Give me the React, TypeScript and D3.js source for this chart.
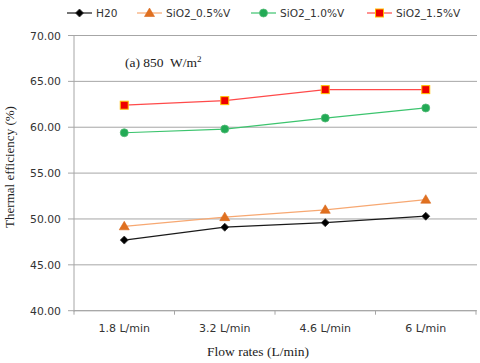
import React from "react";
import * as d3 from "d3";

const categories = ["1.8 L/min", "3.2 L/min", "4.6 L/min", "6 L/min"];
const yTicks = [40, 45, 50, 55, 60, 65, 70];
const h2o = [47.7, 49.1, 49.6, 50.3];
const sio2_05 = [49.2, 50.2, 51.0, 52.1];
const sio2_10 = [59.4, 59.8, 61.0, 62.1];
const sio2_15 = [62.4, 62.9, 64.1, 64.1];
const seriesNames = ["H20", "SiO2_0.5%V", "SiO2_1.0%V", "SiO2_1.5%V"];

const W = 480, H = 363;
const left = 74, right = 476, top = 35.5, bottom = 310.7;

const series = [
  { name: seriesNames[0], values: h2o, line: "#1a1a1a", fill: "#000", stroke: "#333", marker: "diamond" },
  { name: seriesNames[1], values: sio2_05, line: "#f7a872", fill: "#e0701f", stroke: "#d8681c", marker: "triangle" },
  { name: seriesNames[2], values: sio2_10, line: "#3cc46e", fill: "#22aa55", stroke: "#55bb77", marker: "circle" },
  { name: seriesNames[3], values: sio2_15, line: "#ff4a4a", fill: "#ee0000", stroke: "#ffc000", marker: "square" },
];

function Marker({ type, x, y, fill, stroke }: any) {
  if (type === "diamond") {
    const r = 4;
    return <path d={`M${x},${y - r}L${x + r},${y}L${x},${y + r}L${x - r},${y}Z`} fill={fill} stroke={stroke} strokeWidth={0.8} />;
  }
  if (type === "triangle") {
    return <path d={`M${x},${y - 5}L${x + 5},${y + 3.5}L${x - 5},${y + 3.5}Z`} fill={fill} stroke={stroke} strokeWidth={0.6} />;
  }
  if (type === "circle") {
    return <circle cx={x} cy={y} r={4} fill={fill} stroke={stroke} strokeWidth={0.8} />;
  }
  return <rect x={x - 4} y={y - 4} width={8} height={8} fill={fill} stroke={stroke} strokeWidth={1} />;
}

export default function App() {
  const x = d3.scaleBand().domain(categories).range([left, right]);
  const y = d3.scaleLinear().domain([40, 70]).range([bottom, top]);
  const cx = (c: string) => (x(c) as number) + x.bandwidth() / 2;
  const line = d3.line<number>().x((_, i) => cx(categories[i])).y((v) => y(v));
  const legendX = [67, 137, 251, 367];
  const sans = "'DejaVu Sans', Verdana, sans-serif";
  const serif = "'Liberation Serif', 'Times New Roman', serif";

  return (
    <svg width={W} height={H} style={{ position: "absolute", left: 0, top: 0, background: "#fff" }}>
      <rect width={W} height={H} fill="#fff" />
      {yTicks.map((t) => (
        <g key={t}>
          <line x1={left} x2={right + 1} y1={y(t)} y2={y(t)} stroke="#a6a6a6" strokeWidth={1} />
          <line x1={left - 6} x2={left} y1={y(t)} y2={y(t)} stroke="#a6a6a6" />
          <text x={61} y={y(t) + 4} textAnchor="end" fontFamily={sans} fontSize={10.8} fill="#333">
            {t.toFixed(2)}
          </text>
        </g>
      ))}
      <line x1={left} x2={left} y1={top} y2={bottom + 1} stroke="#a6a6a6" />
      <line x1={left} x2={right} y1={bottom} y2={bottom} stroke="#a6a6a6" />
      {[...categories.map((c) => x(c) as number), right].map((v, i) => (
        <line key={i} x1={v} x2={v} y1={bottom} y2={bottom + 4} stroke="#a6a6a6" />
      ))}
      {categories.map((c) => (
        <text key={c} x={cx(c)} y={332} textAnchor="middle" fontFamily={sans} fontSize={11} fill="#333">
          {c}
        </text>
      ))}
      <text x={258} y={356} textAnchor="middle" fontFamily={serif} fontSize={13.5} fill="#222">
        Flow rates (L/min)
      </text>
      <text transform={`translate(14,167) rotate(-90)`} textAnchor="middle" fontFamily={serif} fontSize={13} fill="#222">
        Thermal efficiency (%)
      </text>
      <text x={125} y={67} fontFamily={serif} fontSize={13.5} fill="#222" xmlSpace="preserve">
        (a) 850  W/m<tspan dy={-5} fontSize={9}>2</tspan>
      </text>
      {series.map((s) => (
        <g key={s.name}>
          <path d={line(s.values) || ""} fill="none" stroke={s.line} strokeWidth={1.2} />
          {s.values.map((v, i) => (
            <Marker key={i} type={s.marker} x={cx(categories[i])} y={y(v)} fill={s.fill} stroke={s.stroke} />
          ))}
        </g>
      ))}
      {series.map((s, i) => (
        <g key={s.name}>
          <line x1={legendX[i]} x2={legendX[i] + 25} y1={13} y2={13} stroke={s.line} strokeWidth={1.2} />
          <Marker type={s.marker} x={legendX[i] + 12.5} y={13} fill={s.fill} stroke={s.stroke} />
          <text x={legendX[i] + 29} y={17} fontFamily={sans} fontSize={10.6} fill="#333">
            {s.name}
          </text>
        </g>
      ))}
    </svg>
  );
}
